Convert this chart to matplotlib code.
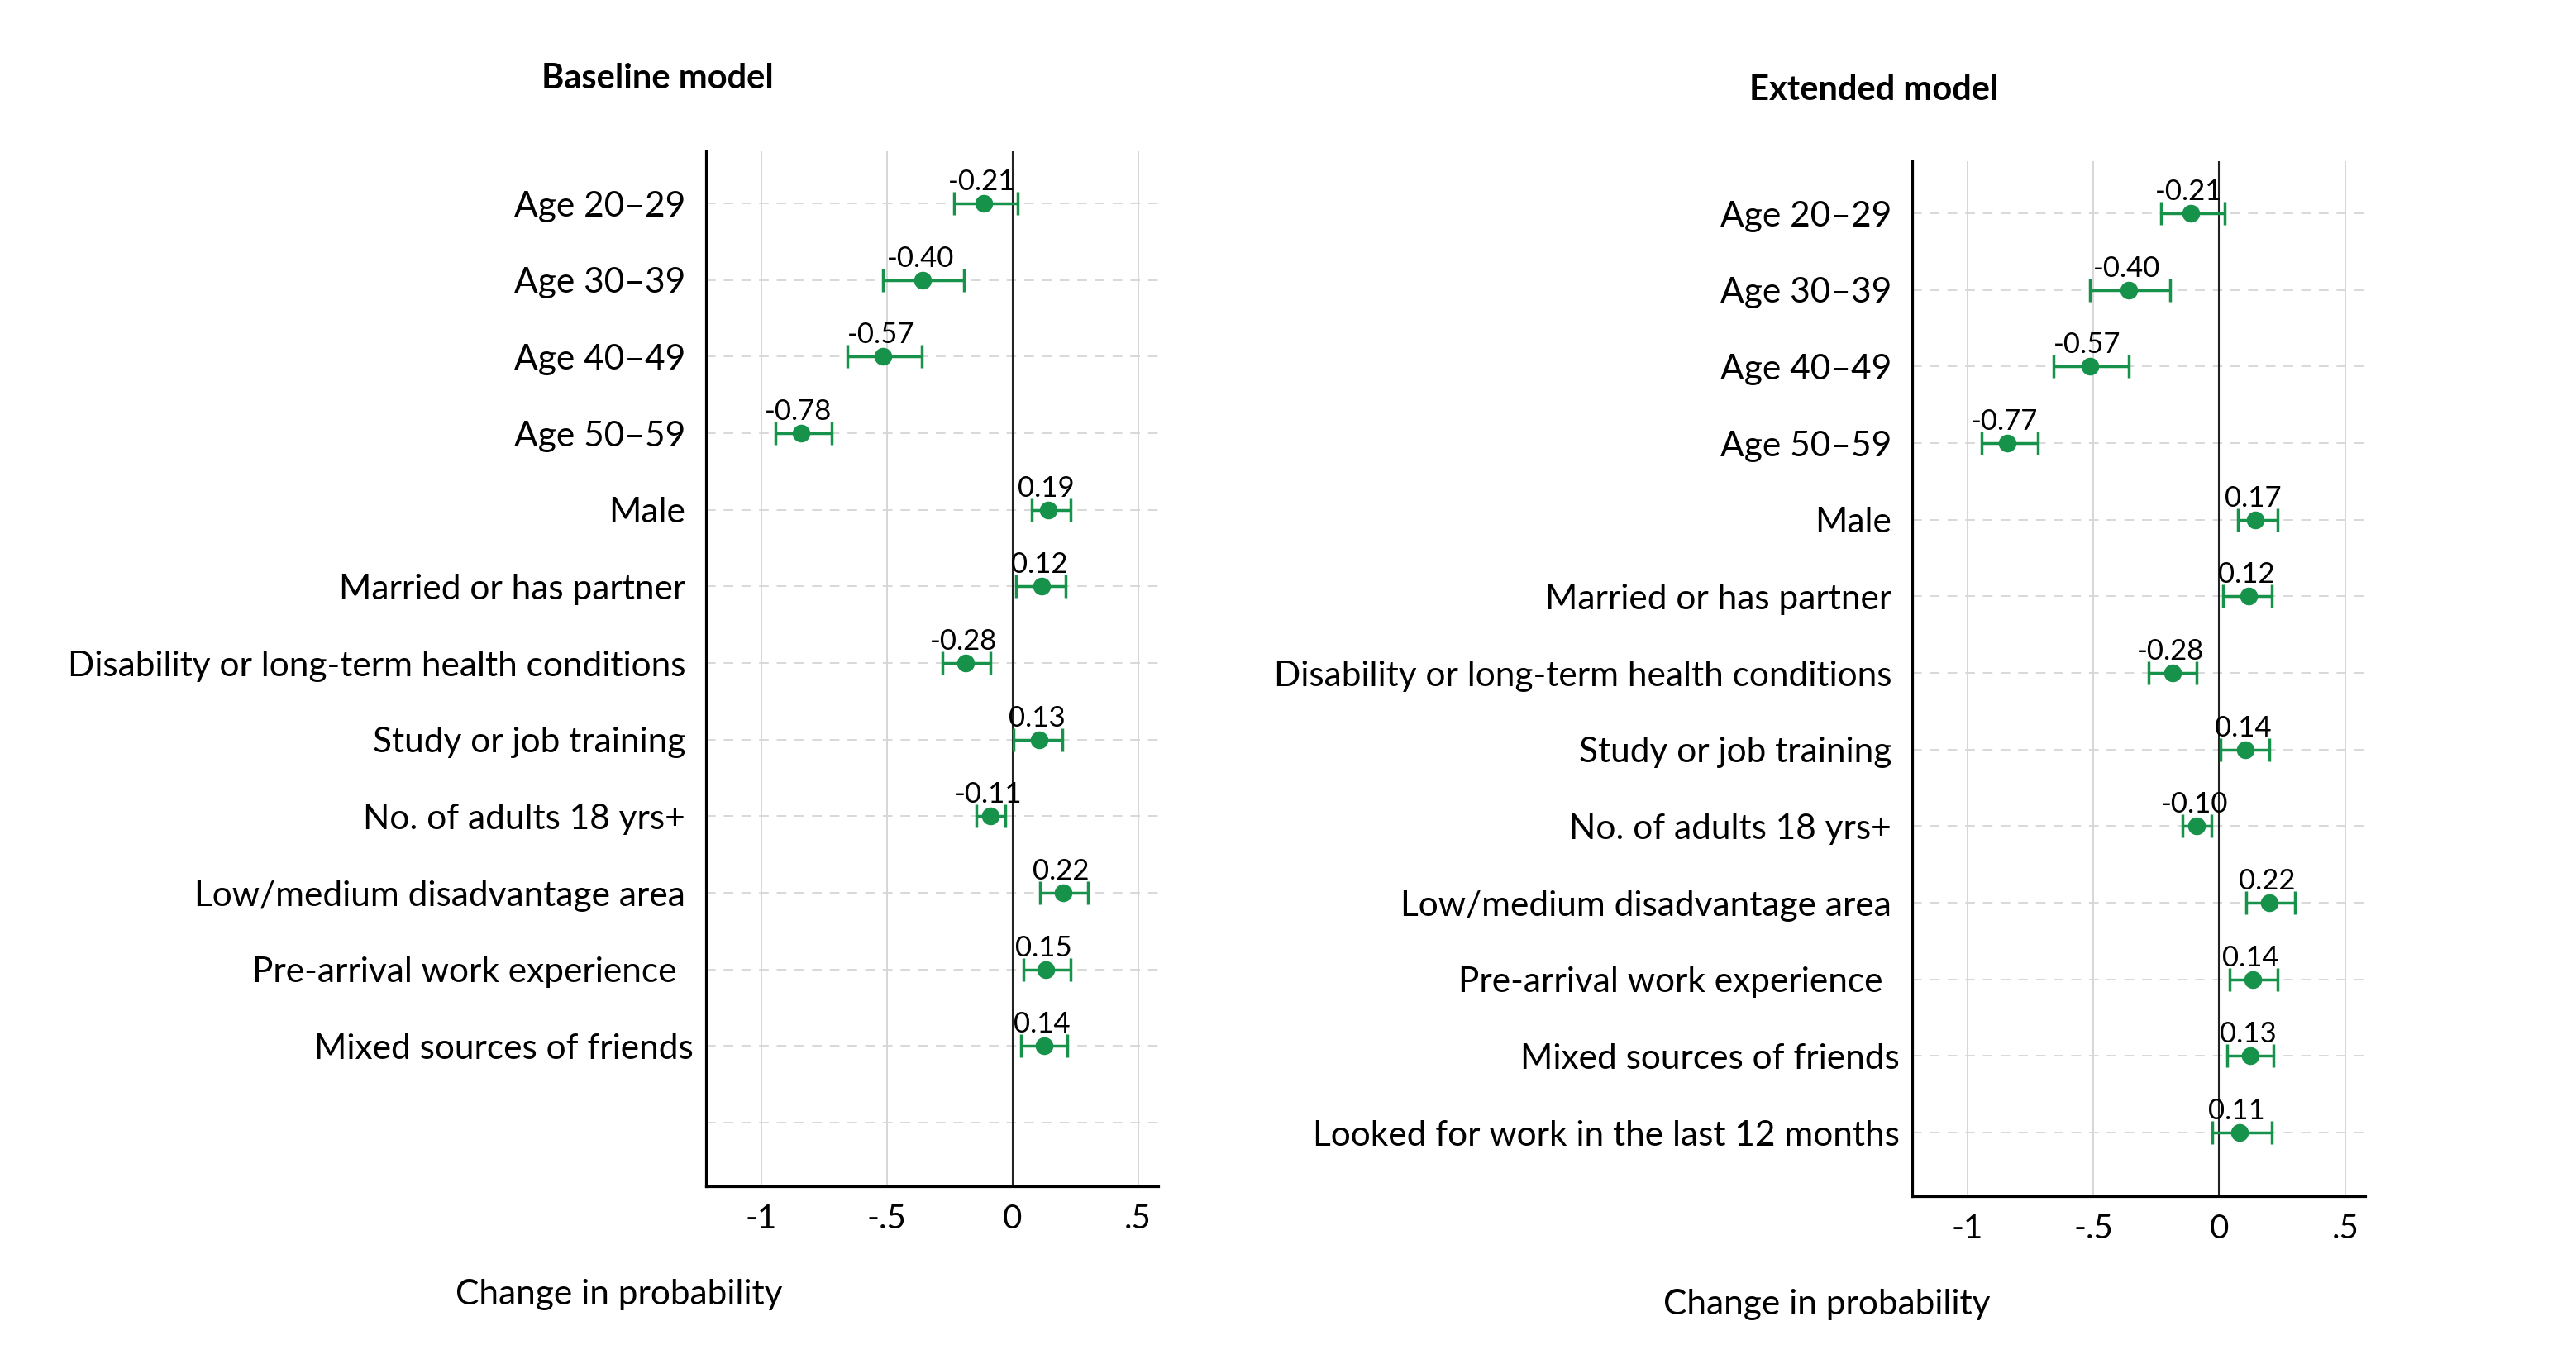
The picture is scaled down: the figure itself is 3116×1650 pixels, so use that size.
import numpy as np
import matplotlib
matplotlib.use("Agg")
import matplotlib.pyplot as plt
import matplotlib.transforms as mtransforms

plt.rcParams['font.family'] = ['Lato', 'DejaVu Sans']

# categories (top to bottom)
base_categories = ["Age 20–29", "Age 30–39", "Age 40–49", "Age 50–59", "Male",
                   "Married or has partner", "Disability or long-term health conditions",
                   "Study or job training", "No. of adults 18 yrs+",
                   "Low/medium disadvantage area", "Pre-arrival work experience ",
                   "Mixed sources of friends", ""]
ext_categories = base_categories[:-1] + ["Looked for work in the last 12 months"]

# baseline model: estimate, CI low, CI high, printed label
base_est = [-0.113, -0.358, -0.515, -0.843, 0.144, 0.117, -0.186, 0.107, -0.088, 0.201, 0.132, 0.126]
base_lo = [-0.232, -0.515, -0.658, -0.943, 0.075, 0.015, -0.279, 0.004, -0.144, 0.110, 0.043, 0.035]
base_hi = [0.021, -0.192, -0.361, -0.720, 0.230, 0.210, -0.089, 0.198, -0.030, 0.301, 0.231, 0.218]
base_labels = ["-0.21", "-0.40", "-0.57", "-0.78", "0.19", "0.12", "-0.28", "0.13", "-0.11",
               "0.22", "0.15", "0.14"]

# extended model
ext_est = [-0.113, -0.359, -0.515, -0.843, 0.142, 0.116, -0.186, 0.104, -0.089, 0.200, 0.132, 0.124, 0.079]
ext_lo = [-0.233, -0.515, -0.660, -0.944, 0.073, 0.015, -0.281, 0.004, -0.146, 0.108, 0.040, 0.032, -0.029]
ext_hi = [0.022, -0.195, -0.360, -0.721, 0.231, 0.208, -0.089, 0.198, -0.032, 0.301, 0.231, 0.215, 0.208]
ext_labels = ["-0.21", "-0.40", "-0.57", "-0.77", "0.17", "0.12", "-0.28", "0.14", "-0.10",
              "0.22", "0.14", "0.13", "0.11"]

xticks = [-1, -0.5, 0, 0.5]
xticklabels = ["-1", "-.5", "0", ".5"]

GREEN = '#17924a'
label_shift = {"Mixed sources of friends": 7, "Looked for work in the last 12 months": 7}

fig = plt.figure(figsize=(31.16, 16.5), dpi=100)


def draw_panel(rect, cats, est, lo, hi, labels, title, title_xy, xlab_xy):
    ax = fig.add_axes(rect)
    y = np.arange(len(est))
    est = np.array(est)
    err = np.vstack([est - np.array(lo), np.array(hi) - est])
    ax.errorbar(est, y, xerr=err, fmt='o', color=GREEN, ms=14.5, elinewidth=2.5,
                capsize=10, capthick=2.5, zorder=4)
    for xv, yv, t in zip(est, y, labels):
        ax.annotate(t, (xv, yv), xytext=(-2, 11.5), textcoords='offset points',
                    ha='center', va='baseline', fontsize=25, color='black', zorder=5)
    ax.axvline(0, color='#222222', lw=1.5, zorder=2)
    ax.set_xlim(-1.22, 0.58)
    ax.set_ylim(12.83, -0.68)
    ax.set_yticks(np.arange(len(cats)))
    ax.set_yticklabels(cats, fontsize=30.5)
    ax.set_xticks(xticks)
    ax.set_xticklabels(xticklabels, fontsize=29)
    ax.tick_params(axis='y', length=0, pad=18)
    ax.tick_params(axis='x', length=0, pad=15)
    for lbl in ax.get_yticklabels():
        s = label_shift.get(lbl.get_text())
        if s:
            lbl.set_transform(lbl.get_transform() +
                              mtransforms.ScaledTranslation(s / 72, 0, fig.dpi_scale_trans))
    ax.grid(axis='x', color='#cccccc', lw=1.1, zorder=0)
    ax.grid(axis='y', color='#d8d8d8', lw=1.4, linestyle=(0, (6, 5)), zorder=0)
    ax.set_axisbelow(True)
    for side in ['top', 'right']:
        ax.spines[side].set_visible(False)
    for side in ['left', 'bottom']:
        ax.spines[side].set_linewidth(2.3)
        ax.spines[side].set_color('black')
    fig.text(title_xy[0], title_xy[1], title, ha='center', va='center',
             fontsize=30, fontweight='bold')
    fig.text(xlab_xy[0], xlab_xy[1], "Change in probability", ha='center', va='center',
             fontsize=30.5)
    return ax


draw_panel([0.2741, 0.1303, 0.1755, 0.7588], base_categories, base_est, base_lo, base_hi,
           base_labels, "Baseline model", (0.2551, 0.9424), (0.2404, 0.0509))
draw_panel([0.7423, 0.1230, 0.1759, 0.7588], ext_categories, ext_est, ext_lo, ext_hi,
           ext_labels, "Extended model", (0.7275, 0.9339), (0.7092, 0.0436))

fig.savefig('out.png', dpi=100, facecolor='white')
